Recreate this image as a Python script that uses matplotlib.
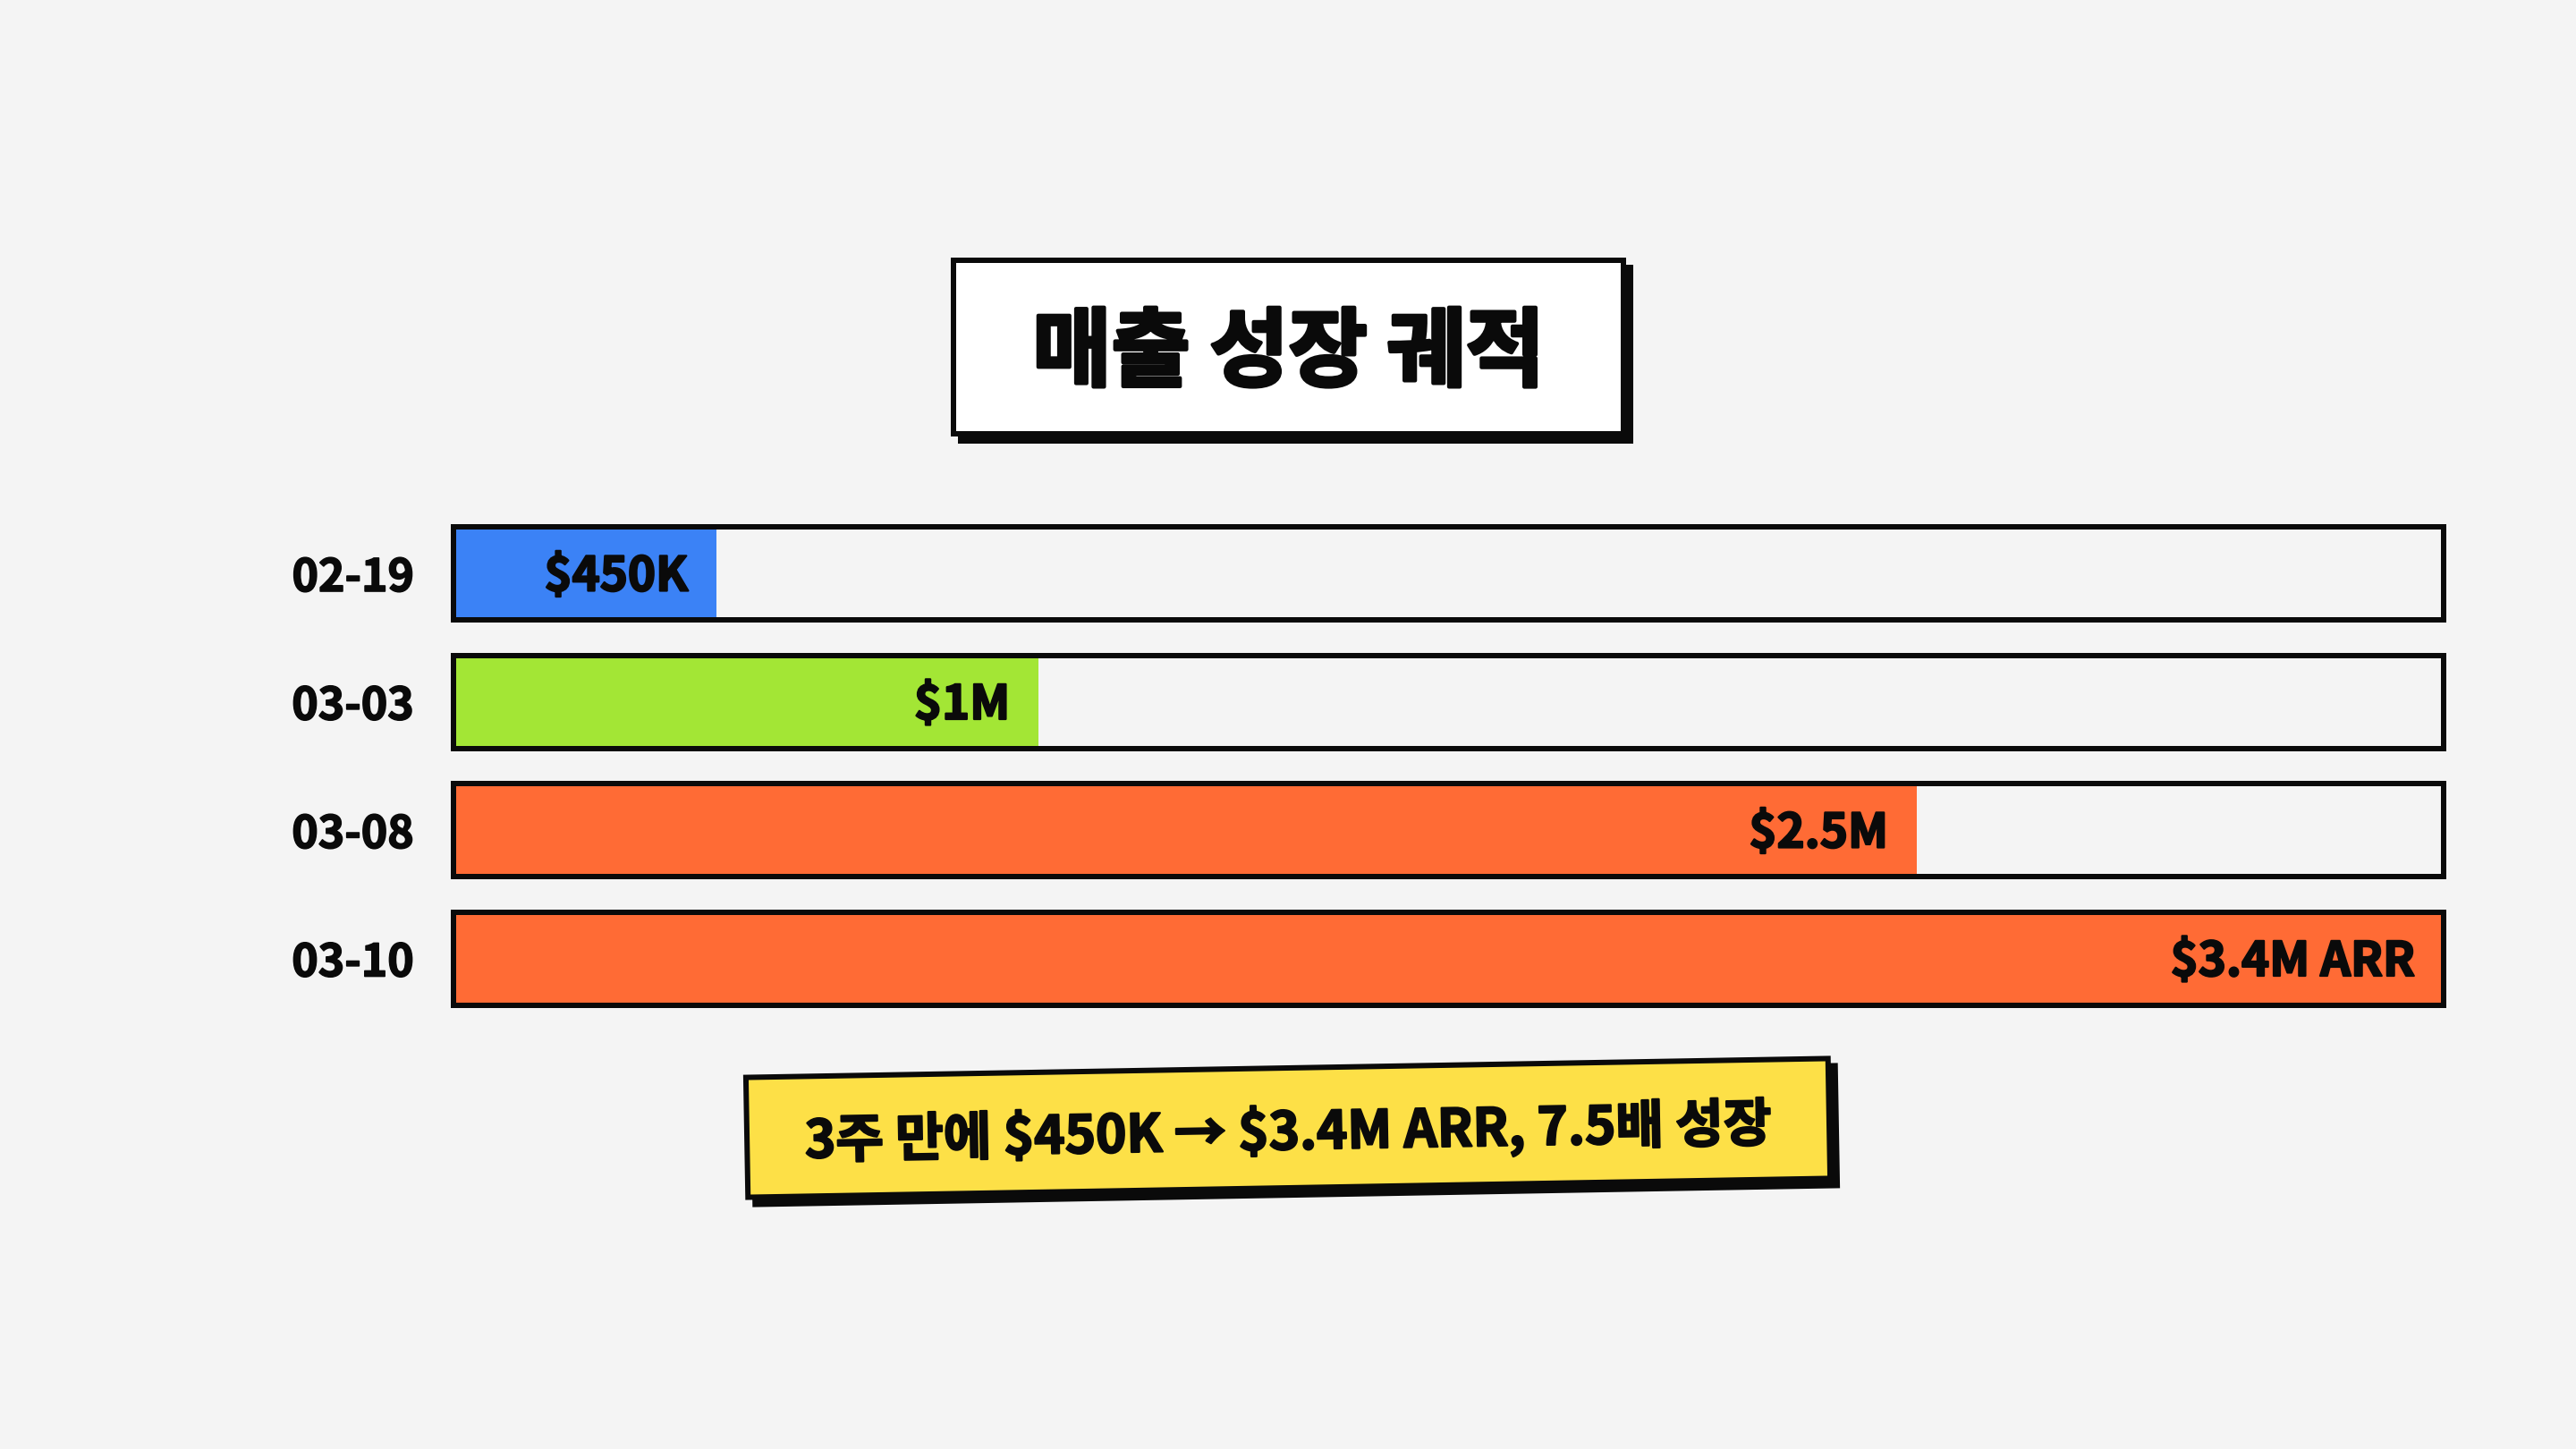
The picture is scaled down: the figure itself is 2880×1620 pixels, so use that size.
import matplotlib.pyplot as plt
import matplotlib.patheffects as pe
from matplotlib.patches import Rectangle

plt.rcParams['font.family'] = ['Noto Sans CJK KR', 'DejaVu Sans']

# data ($M)
dates = ['02-19', '03-03', '03-08', '03-10']
values = [0.45, 1.0, 2.5, 3.4]
value_labels = ['$450K', '$1M', '$2.5M', '$3.4M ARR']
colors = ['#3B82F6', '#A3E635', '#FF6B35', '#FF6B35']
title = '매출 성장 궤적'
note = '3주 만에 $450K → $3.4M ARR, 7.5배 성장'
max_val = 3.4

BG = '#F4F4F4'
INK = '#0A0A0A'
W, H = 2880, 1620
PT = 72 / 100  # px -> pt at dpi 100


def heavy(w):
    # fake a black weight by stroking the bold outline
    return [pe.withStroke(linewidth=w, foreground=INK)]


fig = plt.figure(figsize=(28.8, 16.2), dpi=100, facecolor=BG)

# overlay in pixel coords for the title box and callout
ov = fig.add_axes([0, 0, 1, 1])
ov.set_xlim(0, W)
ov.set_ylim(0, H)
ov.axis('off')
ov.patch.set_alpha(0)

# title box with offset shadow
tx, ty, tw, th = 1066, H - 485, 749, 194
ov.add_patch(Rectangle((tx + 8, ty - 8), tw, th, facecolor=INK, edgecolor=INK, lw=6 * PT))
ov.add_patch(Rectangle((tx, ty), tw, th, facecolor='white', edgecolor=INK, lw=6 * PT))
ov.text(tx + tw / 2, ty + th / 2 - 8, title, ha='center', va='center',
        fontsize=69, fontweight='bold', color=INK, path_effects=heavy(3))

# tilted callout
cx, cy, cw, ch = 1440, H - 1261, 1210, 134
ang = 1.0
ov.add_patch(Rectangle((cx - cw / 2 + 8, cy - ch / 2 - 8), cw, ch, angle=ang, rotation_point='center',
                       facecolor=INK, edgecolor=INK, lw=6 * PT))
ov.add_patch(Rectangle((cx - cw / 2, cy - ch / 2), cw, ch, angle=ang, rotation_point='center',
                       facecolor='#FDE047', edgecolor=INK, lw=6 * PT))
ov.text(cx, cy - 5, note, ha='center', va='center', rotation=ang, rotation_mode='anchor',
        fontsize=42, fontweight='bold', color=INK, parse_math=False, path_effects=heavy(1.6))

# bars
ax = fig.add_axes([507 / W, 1 - 1143.25 / H, 2225 / W, 574 / H])
ax.set_facecolor('none')
n = len(values)
bh = 104 / 143.5
for i, (v, c, lab) in enumerate(zip(values, colors, value_labels)):
    ax.barh(i, v, height=bh, color=c, edgecolor='none', zorder=2)
    ax.add_patch(Rectangle((0, i - bh / 2), max_val, bh, facecolor='none', edgecolor=INK,
                           lw=6 * PT, zorder=3, clip_on=False))
    ax.annotate(lab, (v, i), xytext=(-32 * PT, -4 * PT), textcoords='offset points',
                ha='right', va='center', fontsize=38, fontweight='bold', color=INK, zorder=4,
                parse_math=False, path_effects=heavy(1.6))

ax.set_xlim(0, max_val)
ax.set_ylim(n - 0.5, -0.5)
ax.set_yticks(range(n))
ax.set_yticklabels(dates, fontsize=36, fontweight='bold', color=INK)
ax.tick_params(axis='y', length=0, pad=44 * PT)
for t in ax.get_yticklabels():
    t.set_path_effects(heavy(1.2))
ax.set_xticks([])
for s in ax.spines.values():
    s.set_visible(False)

fig.savefig('out.png', dpi=100, facecolor=BG)
